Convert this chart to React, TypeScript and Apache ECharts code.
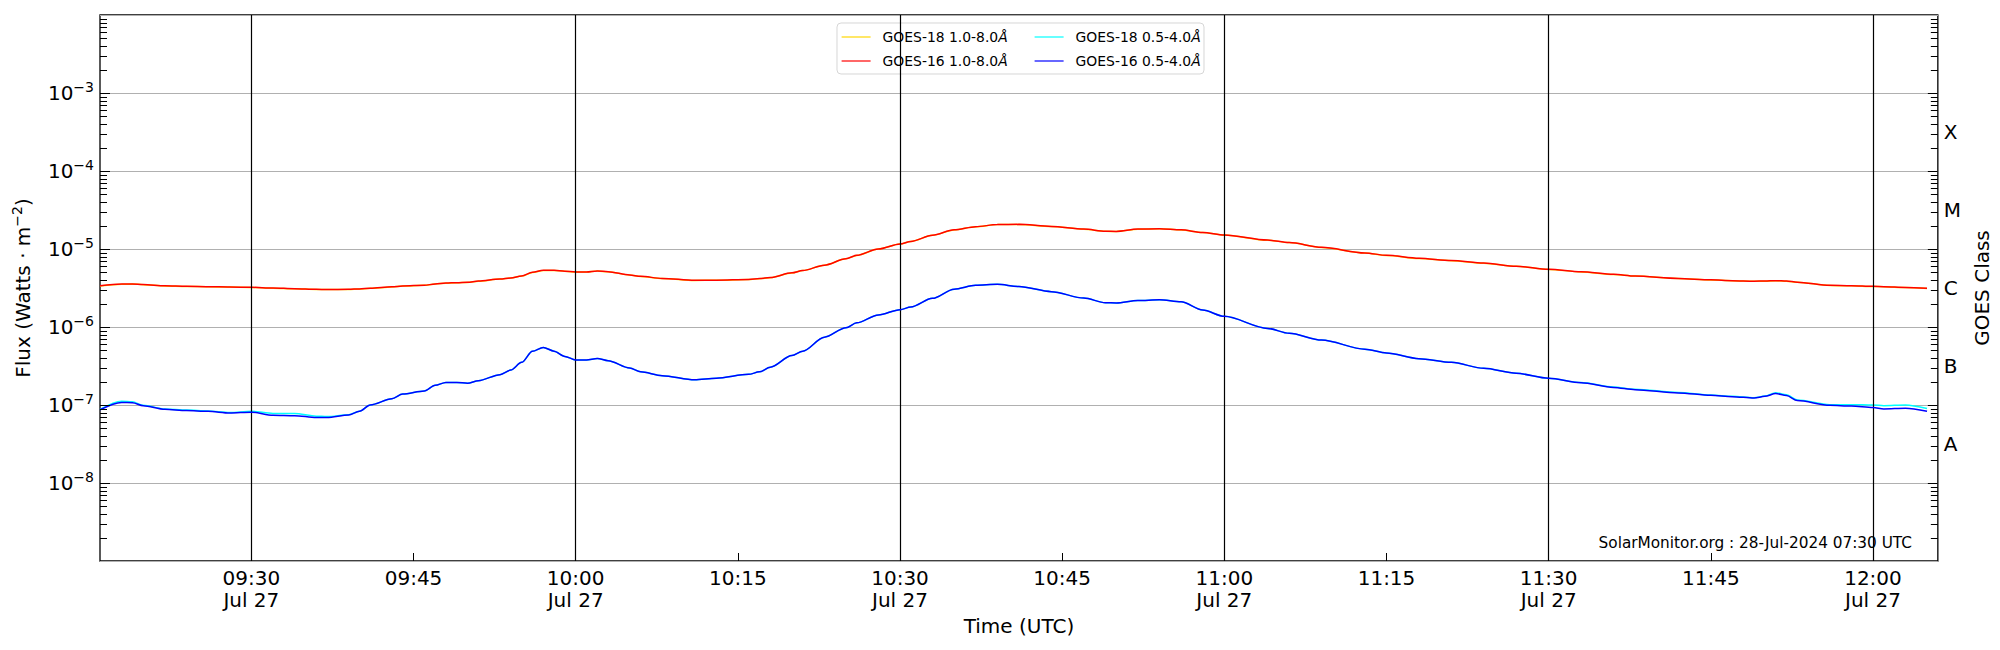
import React, { useEffect, useRef } from "react";
import * as echarts from "echarts";

// ---- data (UTC, 27 Jul 2024) ----
const times = [
  "09:16", "09:18", "09:19", "09:20", "09:22", "09:24", "09:26", "09:28", "09:30", "09:32",
  "09:34", "09:36", "09:37", "09:39", "09:40", "09:41", "09:43", "09:44", "09:46", "09:47",
  "09:48", "09:49", "09:50", "09:51", "09:53", "09:54", "09:55", "09:56", "09:57", "09:58",
  "09:59", "10:00", "10:01", "10:02", "10:03", "10:05", "10:06", "10:08", "10:11", "10:13",
  "10:16", "10:17", "10:18", "10:20", "10:21", "10:23", "10:25", "10:26", "10:28", "10:30",
  "10:31", "10:33", "10:35", "10:37", "10:39", "10:41", "10:44", "10:47", "10:49", "10:50",
  "10:52", "10:54", "10:56", "10:58", "11:00", "11:04", "11:06", "11:09", "11:13", "11:15",
  "11:18", "11:21", "11:24", "11:27", "11:30", "11:33", "11:36", "11:38", "11:42", "11:45",
  "11:47", "11:49", "11:50", "11:51", "11:52", "11:53", "11:56", "11:58", "12:00", "12:01",
  "12:03", "12:05",
];

const goes16Long = [
  3.38e-6, 3.56e-6, 3.56e-6, 3.5e-6, 3.37e-6, 3.32e-6, 3.29e-6, 3.26e-6, 3.23e-6, 3.16e-6,
  3.1e-6, 3.04e-6, 3.03e-6, 3.04e-6, 3.08e-6, 3.14e-6, 3.27e-6, 3.36e-6, 3.43e-6, 3.56e-6,
  3.66e-6, 3.7e-6, 3.74e-6, 3.88e-6, 4.12e-6, 4.25e-6, 4.5e-6, 5.02e-6, 5.33e-6, 5.33e-6,
  5.2e-6, 5.07e-6, 5.07e-6, 5.22e-6, 5.12e-6, 4.65e-6, 4.46e-6, 4.2e-6, 3.97e-6, 3.98e-6,
  4.06e-6, 4.18e-6, 4.3e-6, 4.95e-6, 5.3e-6, 6.2e-6, 7.5e-6, 8.3e-6, 1.0e-5, 1.16e-5,
  1.25e-5, 1.5e-5, 1.76e-5, 1.93e-5, 2.06e-5, 2.07e-5, 1.95e-5, 1.8e-5, 1.69e-5, 1.68e-5,
  1.8e-5, 1.82e-5, 1.76e-5, 1.63e-5, 1.51e-5, 1.3e-5, 1.21e-5, 1.05e-5, 8.9e-6, 8.3e-6,
  7.6e-6, 7.1e-6, 6.6e-6, 6.0e-6, 5.49e-6, 5.1e-6, 4.73e-6, 4.5e-6, 4.2e-6, 4.02e-6,
  3.93e-6, 3.87e-6, 3.88e-6, 3.93e-6, 3.88e-6, 3.76e-6, 3.42e-6, 3.38e-6, 3.32e-6, 3.29e-6,
  3.22e-6, 3.13e-6,
];

const goes18Long = [
  3.36e-6, 3.54e-6, 3.55e-6, 3.49e-6, 3.36e-6, 3.31e-6, 3.28e-6, 3.25e-6, 3.22e-6, 3.15e-6,
  3.09e-6, 3.03e-6, 3.02e-6, 3.03e-6, 3.07e-6, 3.13e-6, 3.26e-6, 3.35e-6, 3.42e-6, 3.55e-6,
  3.65e-6, 3.69e-6, 3.73e-6, 3.87e-6, 4.11e-6, 4.24e-6, 4.49e-6, 5.0e-6, 5.31e-6, 5.32e-6,
  5.19e-6, 5.06e-6, 5.06e-6, 5.21e-6, 5.11e-6, 4.64e-6, 4.45e-6, 4.19e-6, 3.96e-6, 3.97e-6,
  4.05e-6, 4.17e-6, 4.29e-6, 4.94e-6, 5.29e-6, 6.19e-6, 7.48e-6, 8.28e-6, 0.998e-5, 1.158e-5,
  1.248e-5, 1.498e-5, 1.757e-5, 1.927e-5, 2.057e-5, 2.067e-5, 1.947e-5, 1.797e-5, 1.687e-5, 1.677e-5,
  1.797e-5, 1.817e-5, 1.757e-5, 1.627e-5, 1.507e-5, 1.298e-5, 1.208e-5, 1.048e-5, 8.88e-6, 8.28e-6,
  7.58e-6, 7.08e-6, 6.58e-6, 5.99e-6, 5.48e-6, 5.09e-6, 4.72e-6, 4.49e-6, 4.19e-6, 4.01e-6,
  3.92e-6, 3.86e-6, 3.87e-6, 3.92e-6, 3.87e-6, 3.75e-6, 3.41e-6, 3.37e-6, 3.31e-6, 3.28e-6,
  3.21e-6, 3.12e-6,
];

const goes16Short = [
  8.7e-8, 1.08e-7, 1.07e-7, 9.8e-8, 8.8e-8, 8.5e-8, 8.3e-8, 7.9e-8, 8.1e-8, 7.4e-8,
  7.3e-8, 6.9e-8, 6.9e-8, 7.45e-8, 8.3e-8, 1.0e-7, 1.2e-7, 1.38e-7, 1.51e-7, 1.79e-7,
  1.95e-7, 1.95e-7, 1.9e-7, 2.05e-7, 2.45e-7, 2.8e-7, 3.52e-7, 4.88e-7, 5.48e-7, 4.9e-7,
  4.2e-7, 3.78e-7, 3.78e-7, 3.96e-7, 3.7e-7, 2.98e-7, 2.67e-7, 2.38e-7, 2.11e-7, 2.2e-7,
  2.47e-7, 2.66e-7, 3.05e-7, 4.3e-7, 4.9e-7, 7.4e-7, 9.8e-7, 1.13e-6, 1.43e-6, 1.67e-6,
  1.8e-6, 2.33e-6, 3.05e-6, 3.42e-6, 3.52e-6, 3.3e-6, 2.84e-6, 2.35e-6, 2.05e-6, 2.03e-6,
  2.18e-6, 2.24e-6, 2.1e-6, 1.65e-6, 1.37e-6, 9.6e-7, 8.3e-7, 6.8e-7, 5.2e-7, 4.65e-7,
  3.93e-7, 3.52e-7, 2.95e-7, 2.55e-7, 2.2e-7, 1.93e-7, 1.68e-7, 1.57e-7, 1.43e-7, 1.33e-7,
  1.28e-7, 1.23e-7, 1.29e-7, 1.4e-7, 1.32e-7, 1.14e-7, 9.9e-8, 9.7e-8, 9.3e-8, 8.9e-8,
  9.1e-8, 8.3e-8,
];

const goes18Short = [
  8.8e-8, 1.12e-7, 1.1e-7, 9.9e-8, 8.9e-8, 8.6e-8, 8.4e-8, 8.0e-8, 8.3e-8, 7.8e-8,
  7.8e-8, 7.2e-8, 7.1e-8, 7.5e-8, 8.3e-8, 1.0e-7, 1.2e-7, 1.38e-7, 1.51e-7, 1.79e-7,
  1.95e-7, 1.95e-7, 1.9e-7, 2.05e-7, 2.45e-7, 2.8e-7, 3.52e-7, 4.88e-7, 5.48e-7, 4.9e-7,
  4.2e-7, 3.78e-7, 3.78e-7, 3.96e-7, 3.7e-7, 2.98e-7, 2.67e-7, 2.38e-7, 2.11e-7, 2.2e-7,
  2.47e-7, 2.66e-7, 3.05e-7, 4.3e-7, 4.9e-7, 7.4e-7, 9.8e-7, 1.13e-6, 1.43e-6, 1.67e-6,
  1.8e-6, 2.33e-6, 3.05e-6, 3.42e-6, 3.52e-6, 3.3e-6, 2.84e-6, 2.35e-6, 2.05e-6, 2.03e-6,
  2.18e-6, 2.24e-6, 2.1e-6, 1.65e-6, 1.37e-6, 9.6e-7, 8.3e-7, 6.8e-7, 5.2e-7, 4.65e-7,
  3.93e-7, 3.52e-7, 2.95e-7, 2.55e-7, 2.2e-7, 1.94e-7, 1.7e-7, 1.59e-7, 1.45e-7, 1.34e-7,
  1.29e-7, 1.24e-7, 1.3e-7, 1.44e-7, 1.35e-7, 1.16e-7, 1.01e-7, 1.01e-7, 1.0e-7, 9.8e-8,
  1.0e-7, 9.0e-8,
];

const seriesNames = [
  "GOES-18 1.0-8.0Å",
  "GOES-16 1.0-8.0Å",
  "GOES-18 0.5-4.0Å",
  "GOES-16 0.5-4.0Å",
];
const seriesColors = ["#FFD700", "#FF0000", "#00FFFF", "#0000FF"];
const seriesValues = [goes18Long, goes16Long, goes18Short, goes16Short];

const xStart = "09:16";
const xEnd = "12:06";
const tickTimes = [
  "09:30", "09:45", "10:00", "10:15", "10:30", "10:45",
  "11:00", "11:15", "11:30", "11:45", "12:00",
];
const dayLabel = "Jul 27";
const yExpMin = -9;
const yExpMax = -2;
const labelExps = [-8, -7, -6, -5, -4, -3];
const classLabels = ["A", "B", "C", "M", "X"];
const classExps = [-7.5, -6.5, -5.5, -4.5, -3.5];
const footerText = "SolarMonitor.org : 28-Jul-2024 07:30 UTC";

// ---- helpers ----
const FONT = "DejaVu Sans";
// minutes since 00:00 UTC
function mins(hm: string): number {
  const [h, m] = hm.split(":").map(Number);
  return h * 60 + m;
}
const pad = (n: number) => (n < 10 ? "0" + n : "" + n);

function buildOption() {
  const xMin = mins(xStart);
  const xMax = mins(xEnd);
  const tickVals = tickTimes.map(mins);
  const halfHours = tickVals.filter((v) => v % 30 === 0);

  const lineSeries = seriesNames.map((name, si) => ({
    name,
    type: "line",
    xAxisIndex: 0,
    yAxisIndex: 0,
    data: times.map((t, i) => [mins(t), seriesValues[si][i]]),
    symbol: "none",
    showSymbol: false,
    smooth: 0.3,
    smoothMonotone: "x",
    silent: true,
    z: 2 + si,
    lineStyle: { color: seriesColors[si], width: 1.5 },
    itemStyle: { color: seriesColors[si] },
    ...(si === 0
      ? {
          markLine: {
            silent: true,
            symbol: ["none", "none"],
            label: { show: false },
            lineStyle: { color: "#000", width: 1.2, type: "solid" },
            data: halfHours.map((v) => ({ xAxis: v })),
          },
        }
      : {}),
  }));

  // y ticks (major at decades, minor at k*10^n) on both sides
  const tickData: number[][] = [];
  for (let e = yExpMin; e < yExpMax; e++) {
    if (e > yExpMin) tickData.push([xMin, Math.pow(10, e), 1]);
    for (let k = 2; k <= 9; k++) tickData.push([xMin, k * Math.pow(10, e), 0]);
  }

  const tickSeries = {
    type: "custom",
    xAxisIndex: 0,
    yAxisIndex: 0,
    silent: true,
    clip: false,
    z: 10,
    data: tickData,
    renderItem: (params: any, api: any) => {
      const cs = params.coordSys;
      const y = Math.round(api.coord([api.value(0), api.value(1)])[1]) + 0.5;
      const len = api.value(2) ? 10 : 7;
      return {
        type: "group",
        children: [
          { type: "line", shape: { x1: cs.x, y1: y, x2: cs.x + len, y2: y }, style: { stroke: "#000", lineWidth: 1 } },
          { type: "line", shape: { x1: cs.x + cs.width, y1: y, x2: cs.x + cs.width - len, y2: y }, style: { stroke: "#000", lineWidth: 1 } },
        ],
      };
    },
  };

  const legendCommon = {
    orient: "vertical",
    top: 30,
    itemWidth: 29,
    itemHeight: 14,
    itemGap: 10,
    padding: 0,
    selectedMode: false,
    itemStyle: { opacity: 0, borderWidth: 0 },
    lineStyle: { width: 1.2 },
    formatter: (name: string) => name.slice(0, -1) + "{i|Å}",
    textStyle: {
      fontFamily: FONT,
      fontSize: 13.9,
      color: "#000",
      padding: [0, 0, 0, 7],
      rich: { i: { fontFamily: FONT, fontSize: 13.9, fontStyle: "italic", color: "#000" } },
    },
  };

  return {
    animation: false,
    textStyle: { fontFamily: FONT },
    grid: {
      left: 100,
      right: 60,
      top: 15,
      bottom: 89,
      show: true,
      borderColor: "#000",
      borderWidth: 1.3,
      backgroundColor: "transparent",
    },
    legend: [
      { ...legendCommon, left: 841, data: [seriesNames[0], seriesNames[1]] },
      { ...legendCommon, left: 1034, data: [seriesNames[2], seriesNames[3]] },
    ],
    xAxis: {
      type: "value",
      min: xMin,
      max: xMax,
      axisLine: { show: false },
      splitLine: { show: false },
      name: "Time (UTC)",
      nameLocation: "middle",
      nameGap: 48,
      nameTextStyle: { fontFamily: FONT, fontSize: 20, color: "#000" },
      axisTick: {
        show: true,
        inside: true,
        length: 8,
        customValues: tickVals,
        lineStyle: { color: "#000", width: 1 },
      },
      axisLabel: {
        customValues: tickVals,
        margin: 6,
        fontFamily: FONT,
        fontSize: 20,
        lineHeight: 22,
        color: "#000",
        formatter: (v: number) => {
          const hh = Math.floor(v / 60);
          const mm = Math.round(v - hh * 60);
          const s = pad(hh) + ":" + pad(mm);
          return mm % 30 === 0 ? s + "\n" + dayLabel : s;
        },
      },
    },
    yAxis: [
      {
        type: "log",
        logBase: 10,
        min: Math.pow(10, yExpMin),
        max: Math.pow(10, yExpMax),
        interval: 1,
        position: "left",
        axisLine: { show: false },
        axisTick: { show: false },
        minorTick: { show: false },
        splitLine: { show: true, lineStyle: { color: "#b0b0b0", width: 1.2 } },
        name: "{n|Flux (Watts · m}{s|−2}{n|)}",
        nameLocation: "middle",
        nameGap: 64,
        nameRotate: 90,
        nameTextStyle: {
          rich: {
            n: { fontFamily: FONT, fontSize: 20, color: "#000", lineHeight: 26 },
            s: { fontFamily: FONT, fontSize: 14, color: "#000", verticalAlign: "top", lineHeight: 14 },
          },
        },
        axisLabel: {
          margin: 6,
          formatter: (v: number) => {
            const e = Math.round(Math.log10(v));
            if (labelExps.indexOf(e) < 0) return "";
            return "{b|10}{s|−" + -e + "}";
          },
          rich: {
            b: { fontFamily: FONT, fontSize: 20, color: "#000", lineHeight: 26 },
            s: { fontFamily: FONT, fontSize: 14, color: "#000", verticalAlign: "top", lineHeight: 14 },
          },
        },
      },
      {
        type: "value",
        min: yExpMin,
        max: yExpMax,
        interval: 0.5,
        position: "right",
        axisLine: { show: false },
        axisTick: { show: false },
        splitLine: { show: false },
        name: "GOES Class",
        nameLocation: "middle",
        nameGap: 19,
        nameRotate: 90,
        nameTextStyle: { fontFamily: FONT, fontSize: 20, color: "#000" },
        axisLabel: {
          margin: 6,
          fontFamily: FONT,
          fontSize: 20,
          color: "#000",
          formatter: (v: number) => {
            const i = classExps.findIndex((e) => Math.abs(e - v) < 1e-6);
            return i >= 0 ? classLabels[i] : "";
          },
        },
      },
    ],
    graphic: [
      {
        type: "rect",
        z: 3,
        silent: true,
        shape: { x: 837, y: 23, width: 367, height: 51, r: 4 },
        style: { fill: "rgba(255,255,255,0.8)", stroke: "rgba(204,204,204,0.8)", lineWidth: 1 },
      },
      {
        type: "text",
        z: 5,
        silent: true,
        x: 1912,
        y: 543,
        style: {
          text: footerText,
          fontFamily: FONT,
          fontSize: 15.3,
          fill: "#000",
          align: "right",
          verticalAlign: "middle",
        },
      },
    ],
    series: [...lineSeries, tickSeries],
  };
}

export default function App() {
  const ref = useRef<HTMLDivElement>(null);
  useEffect(() => {
    document.body.style.margin = "0";
    if (!ref.current) return;
    const chart = echarts.init(ref.current, null, { renderer: "svg" });
    chart.setOption(buildOption() as any);
    return () => chart.dispose();
  }, []);
  return <div ref={ref} style={{ width: 2000, height: 650 }} />;
}
